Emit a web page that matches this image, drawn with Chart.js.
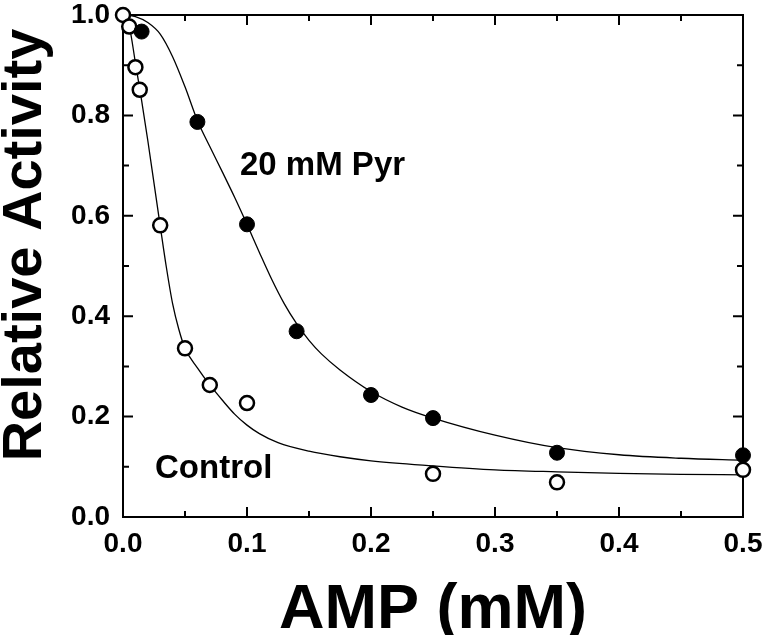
<!DOCTYPE html>
<html>
<head>
<meta charset="utf-8">
<script src="https://cdn.jsdelivr.net/npm/chart.js@4/dist/chart.umd.min.js"></script>
<style>
  html, body { margin: 0; padding: 0; background: #ffffff; }
  #wrap { width: 765px; height: 635px; position: relative; }
</style>
</head>
<body>
<div id="wrap"><canvas id="c" width="765" height="635"></canvas></div>
<script>
// ---- data ----
const controlX = [0, 0.005, 0.01, 0.0135, 0.03, 0.05, 0.07, 0.1, 0.25, 0.35, 0.5];
const controlY = [1.0, 0.977, 0.896, 0.851, 0.581, 0.336, 0.263, 0.227, 0.086, 0.069, 0.094];

const pyrX = [0.015, 0.06, 0.1, 0.14, 0.2, 0.25, 0.35, 0.5];
const pyrY = [0.967, 0.787, 0.583, 0.37, 0.243, 0.197, 0.128, 0.123];

// fitted curves
const pyrCurveX = [0, 0.01, 0.02, 0.03, 0.04, 0.05, 0.06, 0.07, 0.08, 0.09, 0.1, 0.11, 0.12, 0.13, 0.14, 0.15, 0.16, 0.175, 0.2, 0.225, 0.25, 0.3, 0.35, 0.4, 0.45, 0.5];
const pyrCurveY = [1.0, 0.997, 0.985, 0.962, 0.917, 0.857, 0.790, 0.738, 0.688, 0.637, 0.583, 0.527, 0.473, 0.425, 0.385, 0.352, 0.325, 0.293, 0.250, 0.219, 0.197, 0.163, 0.138, 0.124, 0.117, 0.113];

const controlCurveX = [0, 0.005, 0.01, 0.015, 0.02, 0.025, 0.03, 0.035, 0.04, 0.045, 0.05, 0.06, 0.07, 0.08, 0.09, 0.1, 0.11, 0.125, 0.15, 0.175, 0.2, 0.25, 0.3, 0.35, 0.4, 0.45, 0.5];
const controlCurveY = [1.0, 0.978, 0.905, 0.83, 0.75, 0.665, 0.58, 0.497, 0.425, 0.374, 0.336, 0.297, 0.263, 0.233, 0.205, 0.183, 0.166, 0.148, 0.131, 0.12, 0.112, 0.102, 0.094, 0.09, 0.087, 0.085, 0.084];

const xTickLabels = ['0.0', '0.1', '0.2', '0.3', '0.4', '0.5'];
const yTickLabels = ['0.0', '0.2', '0.4', '0.6', '0.8', '1.0'];

const xTitle = 'AMP (mM)';
const yTitle = 'Relative Activity';
const pyrLabel = '20 mM Pyr';
const controlLabel = 'Control';

// ---- helpers ----
function pts(xs, ys) { return xs.map((x, i) => ({ x: x, y: ys[i] })); }
const FONT = '"Liberation Sans", Arial, Helvetica, sans-serif';

const framePlugin = {
  id: 'frame',
  beforeDatasetsDraw(chart) {
    const { ctx, chartArea: a, scales } = chart;
    const xs = scales.x, ys = scales.y;
    ctx.save();
    ctx.strokeStyle = '#000';
    ctx.lineWidth = 2;
    ctx.strokeRect(a.left, a.top, a.right - a.left, a.bottom - a.top);
    ctx.beginPath();
    for (let i = 0; i < xTickLabels.length; i++) {
      const v = parseFloat(xTickLabels[i]);
      const p = xs.getPixelForValue(v);
      ctx.moveTo(p, a.bottom); ctx.lineTo(p, a.bottom - 10);
      ctx.moveTo(p, a.top); ctx.lineTo(p, a.top + 10);
      if (i < xTickLabels.length - 1) {
        const m = xs.getPixelForValue((v + parseFloat(xTickLabels[i + 1])) / 2);
        ctx.moveTo(m, a.bottom); ctx.lineTo(m, a.bottom - 6);
        ctx.moveTo(m, a.top); ctx.lineTo(m, a.top + 6);
      }
    }
    for (let i = 0; i < yTickLabels.length; i++) {
      const v = parseFloat(yTickLabels[i]);
      const p = ys.getPixelForValue(v);
      ctx.moveTo(a.left, p); ctx.lineTo(a.left + 10, p);
      ctx.moveTo(a.right, p); ctx.lineTo(a.right - 10, p);
      if (i < yTickLabels.length - 1) {
        const m = ys.getPixelForValue((v + parseFloat(yTickLabels[i + 1])) / 2);
        ctx.moveTo(a.left, m); ctx.lineTo(a.left + 6, m);
        ctx.moveTo(a.right, m); ctx.lineTo(a.right - 6, m);
      }
    }
    ctx.stroke();
    ctx.restore();
  },
  afterDraw(chart) {
    const { ctx, chartArea: a } = chart;
    ctx.save();
    ctx.fillStyle = '#000';
    ctx.font = 'bold 63px ' + FONT;
    ctx.textAlign = 'center';
    ctx.textBaseline = 'alphabetic';
    ctx.fillText(xTitle, (a.left + a.right) / 2, 628);
    ctx.save();
    ctx.translate(41, 245);
    ctx.rotate(-Math.PI / 2);
    ctx.font = 'bold 56px ' + FONT;
    ctx.textAlign = 'center';
    ctx.fillText(yTitle, 0, 0);
    ctx.restore();
    ctx.font = 'bold 33px ' + FONT;
    ctx.textAlign = 'left';
    ctx.fillText(pyrLabel, 240, 175);
    ctx.fillText(controlLabel, 155, 478);
    ctx.restore();
  }
};

const ctx = document.getElementById('c').getContext('2d');
new Chart(ctx, {
  type: 'scatter',
  data: {
    datasets: [
      {
        label: pyrLabel,
        data: pts(pyrX, pyrY),
        backgroundColor: '#000',
        borderColor: '#000',
        borderWidth: 1,
        pointRadius: 7.5,
        pointHoverRadius: 7.5,
        showLine: false,
        clip: false,
        order: 0
      },
      {
        label: controlLabel,
        data: pts(controlX, controlY),
        backgroundColor: '#fff',
        borderColor: '#000',
        borderWidth: 2.5,
        pointRadius: 7,
        pointHoverRadius: 7,
        showLine: false,
        clip: false,
        order: 0
      },
      {
        label: pyrLabel + ' fit',
        data: pts(pyrCurveX, pyrCurveY),
        type: 'line',
        borderColor: '#000',
        borderWidth: 1.3,
        pointRadius: 0,
        fill: false,
        cubicInterpolationMode: 'monotone',
        order: 1
      },
      {
        label: controlLabel + ' fit',
        data: pts(controlCurveX, controlCurveY),
        type: 'line',
        borderColor: '#000',
        borderWidth: 1.3,
        pointRadius: 0,
        fill: false,
        cubicInterpolationMode: 'monotone',
        order: 1
      }
    ]
  },
  options: {
    responsive: false,
    animation: false,
    devicePixelRatio: 1,
    layout: { padding: { top: 15, right: 22, left: 0, bottom: 0 } },
    plugins: {
      legend: { display: false },
      tooltip: { enabled: false },
      title: { display: false }
    },
    scales: {
      x: {
        type: 'linear',
        min: 0,
        max: 0.5,
        afterBuildTicks(scale) {
          scale.ticks = xTickLabels.map(t => ({ value: parseFloat(t) }));
        },
        afterFit(scale) {
          scale.height = 118;
          scale.paddingLeft = 0; scale.paddingRight = 0;
          scale.paddingTop = 0; scale.paddingBottom = 0;
        },
        ticks: {
          callback: (v, i) => xTickLabels[i],
          color: '#000',
          font: { family: FONT, size: 28, weight: 'bold' },
          padding: 10,
          maxRotation: 0,
          autoSkip: false
        },
        grid: { display: false, drawTicks: false },
        border: { display: false },
        title: { display: false }
      },
      y: {
        type: 'linear',
        min: 0,
        max: 1,
        afterBuildTicks(scale) {
          scale.ticks = yTickLabels.map(t => ({ value: parseFloat(t) }));
        },
        afterFit(scale) {
          scale.width = 123;
          scale.paddingLeft = 0; scale.paddingRight = 0;
          scale.paddingTop = 0; scale.paddingBottom = 0;
        },
        ticks: {
          callback: (v, i) => yTickLabels[i],
          color: '#000',
          font: { family: FONT, size: 28, weight: 'bold' },
          padding: 13,
          autoSkip: false
        },
        grid: { display: false, drawTicks: false },
        border: { display: false },
        title: { display: false }
      }
    }
  },
  plugins: [framePlugin]
});
</script>
</body>
</html>
